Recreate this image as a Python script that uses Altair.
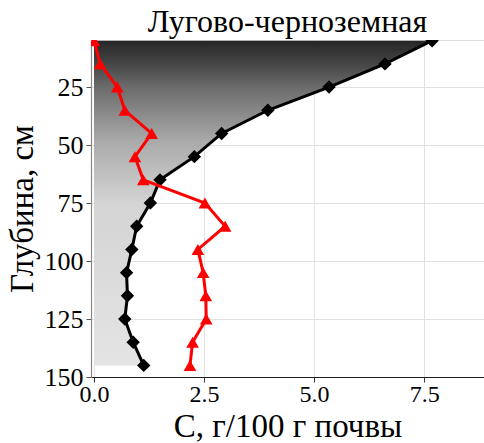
import altair as alt
import pandas as pd

depth = [5, 15, 25, 35, 45, 55, 65, 75, 85, 95, 105, 115, 125, 135, 145]
carbon_black = [7.68, 6.61, 5.34, 3.95, 2.90, 2.28, 1.50, 1.28, 0.97, 0.86, 0.74, 0.76, 0.70, 0.89, 1.13]
carbon_red = [0.0, 0.14, 0.53, 0.70, 1.31, 0.93, 1.12, 2.52, 2.98, 2.36, 2.48, 2.54, 2.55, 2.24, 2.18]

x_ticks = [0, 2.5, 5, 7.5]
y_ticks = [25, 50, 75, 100, 125, 150]

df = pd.DataFrame({"depth": depth, "black": carbon_black, "red": carbon_red})

FONT = "Liberation Serif"
xs = alt.Scale(domain=[-0.068, 8.86], nice=False, zero=False)
ys = alt.Scale(domain=[4.7, 150], reverse=True, nice=False, zero=False)

x_axis = alt.Axis(
    values=x_ticks, format=".1f", title="C, г/100 г почвы",
    labelFont=FONT, labelFontSize=24, labelColor="black", labelPadding=0,
    titleFont=FONT, titleFontSize=33, titleFontWeight="normal", titleColor="black",
    titleX=196.5, titleY=59, titleBaseline="alphabetic",
    tickSize=5, tickColor="#333", domainColor="#222", domainWidth=1.2,
    gridColor="#e2e2e2", gridWidth=1,
)
y_axis = alt.Axis(
    values=y_ticks, format="d", title="Глубина, см",
    labelFont=FONT, labelFontSize=26, labelColor="black", labelPadding=3,
    titleFont=FONT, titleFontSize=33, titleFontWeight="normal", titleColor="black",
    titleX=-59, titleY=168.5, titleAngle=270, titleBaseline="alphabetic",
    tickSize=5, tickColor="#555", domainColor="#888", domainWidth=1.2,
    gridColor="#e2e2e2", gridWidth=1,
)

grad = alt.Gradient(
    gradient="linear",
    stops=[
        alt.GradientStop(color="#262626", offset=0),
        alt.GradientStop(color="#4a4a4a", offset=0.08),
        alt.GradientStop(color="#6a6a6a", offset=0.14),
        alt.GradientStop(color="#aaaaaa", offset=0.31),
        alt.GradientStop(color="#d4d4d4", offset=0.5),
        alt.GradientStop(color="#e4e4e4", offset=1),
    ],
    x1=0, x2=0, y1=0, y2=1,
)

base = alt.Chart(df)

area = base.mark_area(orient="horizontal", clip=True, color=grad).encode(
    x=alt.X("black:Q", scale=xs, axis=x_axis),
    x2=alt.datum(0),
    y=alt.Y("depth:Q", scale=ys, axis=y_axis),
)

black_line = base.mark_line(color="black", strokeWidth=3, clip=True).encode(
    x="black:Q", y="depth:Q", order="depth:Q"
)
black_pts = base.mark_point(shape="diamond", filled=True, size=180, color="black", opacity=1, clip=True).encode(
    x="black:Q", y="depth:Q"
)
red_line = base.mark_line(color="#ff0000", strokeWidth=3, clip=True).encode(
    x="red:Q", y="depth:Q", order="depth:Q"
)
red_pts = base.mark_point(shape="triangle-up", filled=True, size=160, color="#ff0000", opacity=1, clip=True).encode(
    x="red:Q", y="depth:Q"
)

chart = alt.layer(area, black_line, black_pts, red_line, red_pts).properties(
    width=393, height=337,
    title=alt.Title("Лугово-черноземная", font=FONT, fontSize=32, fontWeight="normal",
                    color="black", anchor="middle", offset=6, baseline="alphabetic", dy=30),
    autosize=alt.AutoSizeParams(type="none"),
    padding={"left": 91, "top": 40, "right": 0, "bottom": 66},
).configure_view(stroke=None).configure(background="white")

chart.save("out.html", embed_options={"renderer": "svg", "actions": False})
